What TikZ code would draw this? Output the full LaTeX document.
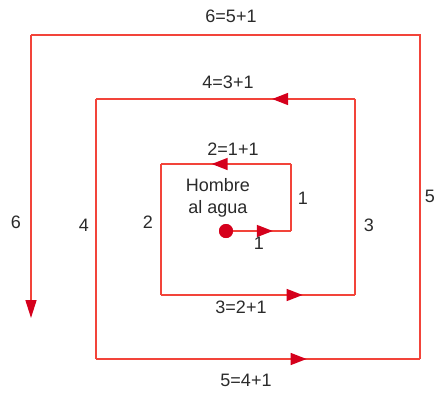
\documentclass[tikz,border=0pt]{standalone}
\usepackage{fontspec}
\setmainfont{Liberation Sans}
\usetikzlibrary{arrows.meta, decorations.markings}
\definecolor{linered}{HTML}{F2443A}
\definecolor{tipred}{HTML}{D5001C}
\definecolor{textmain}{HTML}{2A2A2A}

\begin{document}
\begin{tikzpicture}[
    x=1pt, y=-1pt,
    spiral/.style={linered, line width=1.6pt},
    midtip/.style={spiral, postaction=decorate,
                   decoration={markings, mark=at position #1 with {\arrow[tipred]{Triangle[length=16pt, width=12pt]}}}},
    lbl/.style={text=textmain, font=\fontsize{18}{22}\selectfont, inner sep=0pt},
    man/.style={circle, fill=tipred, minimum size=14pt, inner sep=0pt}
  ]
    \useasboundingbox (0,0) rectangle (440,392);

    % corners of the search spiral
    \coordinate (c1) at (291,231);
    \coordinate (c2) at (291,164);
    \coordinate (c3) at (161,164);
    \coordinate (c4) at (161,295);
    \coordinate (c5) at (355,295);
    \coordinate (c6) at (355,99);
    \coordinate (c7) at (96,99);
    \coordinate (c8) at (96,359);
    \coordinate (c9) at (420,359);
    \coordinate (c10) at (420,35);
    \coordinate (c11) at (31,35);
    \coordinate (c12) at (31,318);

    \node[man] (dot) at (226,231) {};

    \draw[midtip=0.72] (dot.center) -- (c1);
    \draw[spiral] (c1) -- (c2);
    \draw[midtip=0.61] (c2) -- (c3);
    \draw[spiral] (c3) -- (c4);
    \draw[midtip=0.73] (c4) -- (c5);
    \draw[spiral] (c5) -- (c6);
    \draw[midtip=0.32] (c6) -- (c7);
    \draw[spiral] (c7) -- (c8);
    \draw[midtip=0.65] (c8) -- (c9);
    \draw[spiral] (c9) -- (c10) -- (c11);
    \draw[spiral, -{Triangle[length=18pt, width=11pt, color=tipred]}] (c11) -- (c12);
    \node[man] at (dot) {};

    % labels
    \node[lbl, align=center] (start) at (218,198) {Hombre\\al agua};
    \node[lbl] (l1a) at (303,198) {1};
    \node[lbl] (l1b) at (259,243) {1};
    \node[lbl] (l2) at (148,222) {2};
    \node[lbl] (l2t) at (233,149) {2=1+1};
    \node[lbl] (l3) at (369,225) {3};
    \node[lbl] (l3t) at (241,307) {3=2+1};
    \node[lbl] (l4) at (84,225) {4};
    \node[lbl] (l4t) at (228,82) {4=3+1};
    \node[lbl] (l5) at (430,196) {5};
    \node[lbl] (l5t) at (246,380) {5=4+1};
    \node[lbl] (l6) at (16,222) {6};
    \node[lbl] (l6t) at (231,16) {6=5+1};
  \end{tikzpicture}
\end{document}
